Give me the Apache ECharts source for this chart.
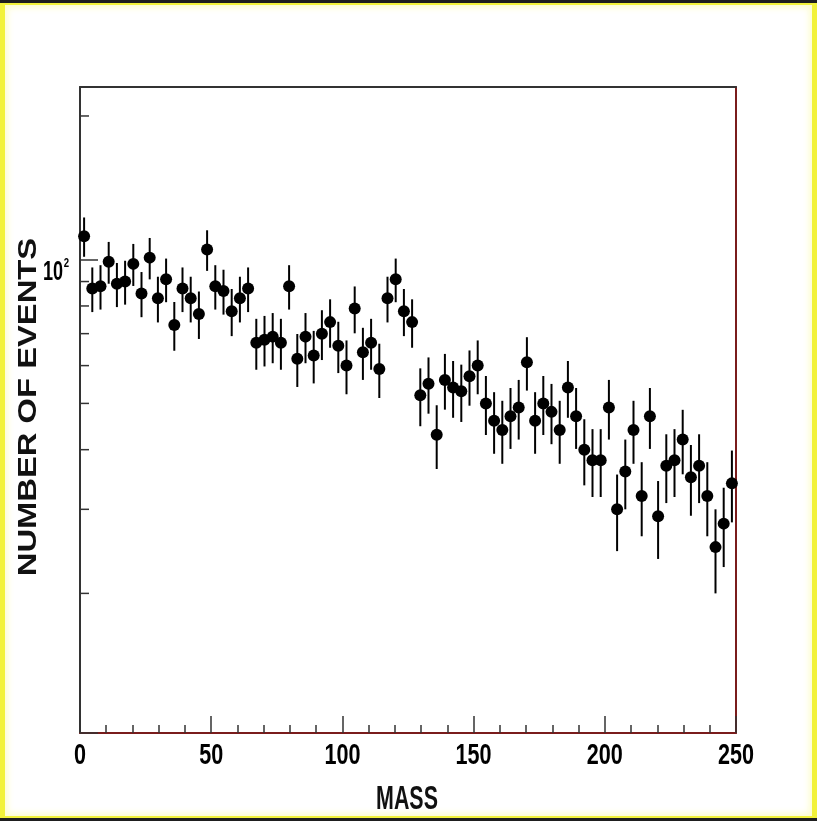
<!DOCTYPE html>
<html><head><meta charset="utf-8">
<script src="https://cdn.jsdelivr.net/npm/echarts@6/dist/echarts.min.js"></script>
<style>
html,body{margin:0;padding:0;background:#fff;}
#frame{position:absolute;left:0;top:0;width:817px;height:821px;box-sizing:border-box;
 box-shadow: inset 0 3px 0 #1e1e1e, inset 0 -3px 0 #1e1e1e, inset 0 0 0 5px #f2f23a, inset 0 0 6px 8px #fdfdd0;}
#chart{position:absolute;left:0;top:0;width:817px;height:821px;}
</style></head><body>
<div id="frame"></div><div id="chart"></div>
<script>
// Histogram definition
const xMin = 0, xMax = 250, nBins = 80;
// Bin contents
const counts = [112,87,88,99,89,90,98,85,101,83,
                91,73,87,83,77,105,88,86,78,83,
                87,67,68,69,67,88,62,69,63,70,
                74,66,60,79,64,67,59,83,91,78,
                74,52,55,43,56,54,53,57,60,50,
                46,44,47,49,61,46,50,48,44,54,
                47,40,38,38,49,30,36,44,32,47,
                29,37,38,42,35,37,32,25,28,34];
// Axis settings / tick labels
const yMin = 10.2, yMax = 230;
const xTickInterval = 50;
const xTickLabels = [0, 50, 100, 150, 200, 250];
const yLabelTicks = [100];            // labelled as 10^2
const yMinorTicks = [20,30,40,50,60,70,80,90,200];
const xTitle = 'MASS';
const yTitle = 'NUMBER OF EVENTS';

const binW = (xMax - xMin) / nBins;
const centers = counts.map((c, i) => xMin + (i + 0.5) * binW);
const points = counts.map((c, i) => [centers[i], c]);
const errs = counts.map((c, i) => [centers[i], c - Math.sqrt(c), c + Math.sqrt(c)]);

const font = '"Liberation Sans", Arial, Helvetica, sans-serif';
const chart = echarts.init(document.getElementById('chart'), null, {renderer: 'canvas'});
chart.setOption({
  animation: false,
  backgroundColor: 'transparent',
  grid: {left: 80, right: 81, top: 87, bottom: 88, containLabel: false},
  xAxis: [{
    type: 'value', min: xMin, max: xMax, interval: xTickInterval, position: 'bottom',
    axisLine: {show: true, onZero: false, lineStyle: {color: '#7a1c1c', width: 2}},
    axisTick: {show: true, inside: true, length: 17, lineStyle: {color: '#333', width: 1.5}},
    minorTick: {show: true, splitNumber: 5, length: 8, lineStyle: {color: '#333', width: 1.5}},
    splitLine: {show: false}, minorSplitLine: {show: false},
    axisLabel: {show: false}
  }, {
    type: 'value', min: xMin, max: xMax, position: 'top',
    axisLine: {show: true, onZero: false, lineStyle: {color: '#333', width: 2}},
    axisTick: {show: false}, axisLabel: {show: false}, splitLine: {show: false}
  }],
  yAxis: [{
    type: 'log', logBase: 10, min: yMin, max: yMax, position: 'left',
    axisLine: {show: true, onZero: false, lineStyle: {color: '#333', width: 2}},
    axisTick: {show: true, inside: true, length: 18, lineStyle: {color: '#333', width: 1.5}},
    splitLine: {show: false},
    axisLabel: {show: false}
  }, {
    type: 'log', logBase: 10, min: yMin, max: yMax, position: 'right',
    axisLine: {show: true, onZero: false, lineStyle: {color: '#7a1c1c', width: 2}},
    axisTick: {show: false}, axisLabel: {show: false}, splitLine: {show: false}
  }],
  graphic: [
    {type: 'text', x: 29, y: 407, rotation: Math.PI / 2, scaleX: 1.31,
     style: {text: yTitle, font: 'bold 25px ' + font, fill: '#111',
             align: 'center', verticalAlign: 'middle', textAlign: 'center', textVerticalAlign: 'middle'}},
    {type: 'text', x: 407, y: 800, scaleX: 0.63,
     style: {text: xTitle, font: 'bold 34px ' + font, fill: '#111',
             align: 'center', verticalAlign: 'middle', textAlign: 'center', textVerticalAlign: 'middle'}}
  ],
  series: [{
    type: 'custom', name: 'yMinorTicks', xAxisIndex: 0, yAxisIndex: 0, silent: true, clip: false,
    data: yMinorTicks.map(v => [xMin, v]),
    encode: {x: 0, y: 1},
    renderItem: (params, api) => {
      const p = api.coord([api.value(0), api.value(1)]);
      return {type: 'line', shape: {x1: p[0], y1: p[1], x2: p[0] + 9, y2: p[1]},
              style: {stroke: '#333', lineWidth: 1.5}};
    }
  }, {
    type: 'custom', name: 'xTickLabels', xAxisIndex: 0, yAxisIndex: 0, silent: true, clip: false,
    data: xTickLabels.map(v => [v, yMin]),
    encode: {x: 0, y: 1},
    renderItem: (params, api) => {
      const v = api.value(0);
      const p = api.coord([v, api.value(1)]);
      return {type: 'text', x: p[0], y: p[1] + 23, scaleX: 0.72,
              style: {text: String(v), font: 'bold 30px ' + font, fill: '#000',
                      align: 'center', verticalAlign: 'middle', textAlign: 'center', textVerticalAlign: 'middle'}};
    }
  }, {
    type: 'custom', name: 'yTickLabels', xAxisIndex: 0, yAxisIndex: 0, silent: true, clip: false,
    data: yLabelTicks.map(v => [xMin, v]),
    encode: {x: 0, y: 1},
    renderItem: (params, api) => {
      const v = api.value(1);
      const p = api.coord([api.value(0), v]);
      const exp = String(Math.round(Math.log10(v)));
      return {type: 'group', children: [
        {type: 'text', x: p[0] - 27, y: p[1] + 12.5, scaleX: 0.67,
         style: {text: '10', font: 'bold 27px ' + font, fill: '#000',
                 align: 'center', verticalAlign: 'middle', textAlign: 'center', textVerticalAlign: 'middle'}},
        {type: 'text', x: p[0] - 13.5, y: p[1] + 3.5, scaleX: 0.8,
         style: {text: exp, font: 'bold 12px ' + font, fill: '#000',
                 align: 'center', verticalAlign: 'middle', textAlign: 'center', textVerticalAlign: 'middle'}}
      ]};
    }
  }, {
    type: 'custom', name: 'errors', xAxisIndex: 0, yAxisIndex: 0, silent: true,
    data: errs, encode: {x: 0, y: [1, 2]},
    renderItem: (params, api) => {
      const x = api.value(0);
      const p1 = api.coord([x, api.value(1)]);
      const p2 = api.coord([x, api.value(2)]);
      return {type: 'line', shape: {x1: p1[0], y1: p1[1], x2: p2[0], y2: p2[1]},
              style: {stroke: '#000', lineWidth: 2}};
    }
  }, {
    type: 'scatter', name: 'data', xAxisIndex: 0, yAxisIndex: 0,
    data: points, symbol: 'circle', symbolSize: 12,
    itemStyle: {color: '#000', opacity: 1}
  }]
});
</script>
</body></html>
